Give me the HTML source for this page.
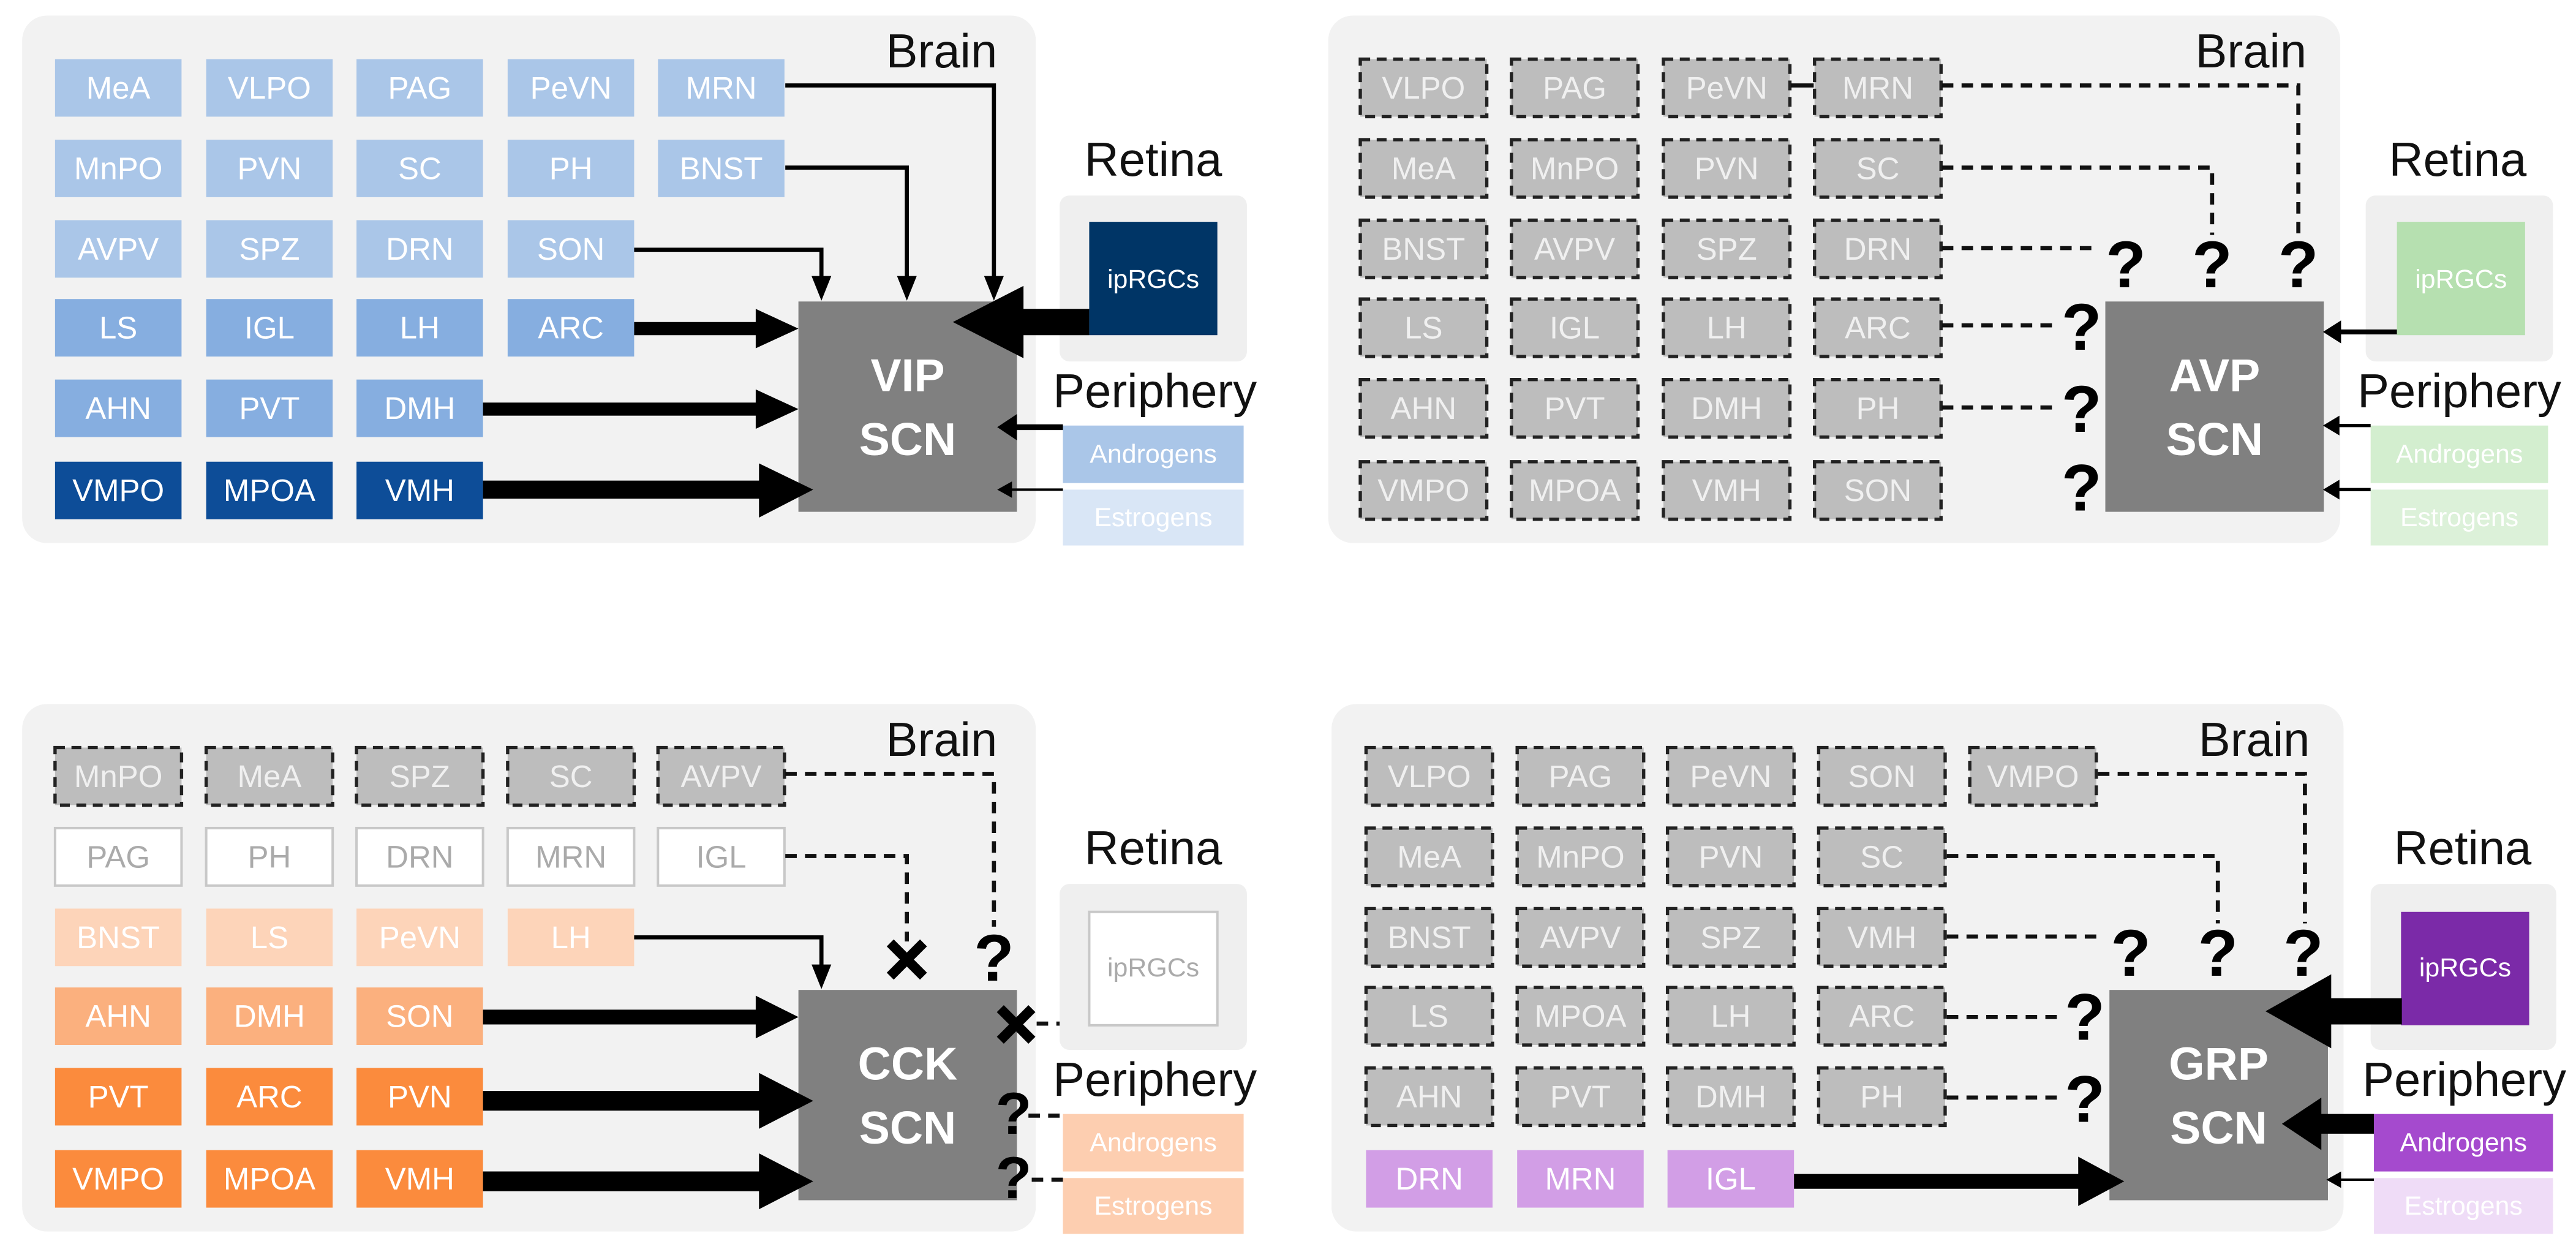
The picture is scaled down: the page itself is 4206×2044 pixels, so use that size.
<!DOCTYPE html>
<html><head><meta charset="utf-8"><style>
html,body{margin:0;padding:0;background:#fff}
svg{display:block}
.t{font-family:"Liberation Sans",sans-serif;font-size:19px;fill:#fff;text-anchor:middle;dominant-baseline:central}
.g{fill:#f0f0f0}
.L{font-family:"Liberation Sans",sans-serif;font-size:29px;fill:#111}
.S{font-family:"Liberation Sans",sans-serif;font-size:28px;font-weight:bold;fill:#fff;text-anchor:middle}
.Q{font-family:"Liberation Sans",sans-serif;font-size:40px;font-weight:bold;fill:#000;text-anchor:middle;dominant-baseline:central}
.d rect{fill:#bdbdbd;stroke:#222;stroke-width:2;stroke-dasharray:6 4}
.dl{fill:none;stroke:#111;stroke-width:2.5;stroke-dasharray:7 5}
.sl{fill:none;stroke:#000}
</style></head><body>
<svg width="4206" height="2044" viewBox="0 0 1568 762" xmlns="http://www.w3.org/2000/svg">
<!-- ================= TOP LEFT (VIP) ================= -->
<g id="tl">
<rect x="13.5" y="9.5" width="617" height="321" rx="15" fill="#f2f2f2"/>
<text class="L" x="607" y="41" text-anchor="end">Brain</text>
<g fill="#aac6e8">
<rect x="33.5" y="36" width="77" height="35"/><rect x="125.5" y="36" width="77" height="35"/><rect x="217" y="36" width="77" height="35"/><rect x="309" y="36" width="77" height="35"/><rect x="400.5" y="36" width="77" height="35"/>
<rect x="33.5" y="85" width="77" height="35"/><rect x="125.5" y="85" width="77" height="35"/><rect x="217" y="85" width="77" height="35"/><rect x="309" y="85" width="77" height="35"/><rect x="400.5" y="85" width="77" height="35"/>
<rect x="33.5" y="134" width="77" height="35"/><rect x="125.5" y="134" width="77" height="35"/><rect x="217" y="134" width="77" height="35"/><rect x="309" y="134" width="77" height="35"/>
</g>
<g fill="#86aee0">
<rect x="33.5" y="182" width="77" height="35"/><rect x="125.5" y="182" width="77" height="35"/><rect x="217" y="182" width="77" height="35"/><rect x="309" y="182" width="77" height="35"/>
<rect x="33.5" y="231" width="77" height="35"/><rect x="125.5" y="231" width="77" height="35"/><rect x="217" y="231" width="77" height="35"/>
</g>
<g fill="#0d4d98">
<rect x="33.5" y="281" width="77" height="35"/><rect x="125.5" y="281" width="77" height="35"/><rect x="217" y="281" width="77" height="35"/>
</g>
<g class="t">
<text class="t" x="72" y="53.5">MeA</text><text class="t" x="164" y="53.5">VLPO</text><text class="t" x="255.5" y="53.5">PAG</text><text class="t" x="347.5" y="53.5">PeVN</text><text class="t" x="439" y="53.5">MRN</text>
<text class="t" x="72" y="102.5">MnPO</text><text class="t" x="164" y="102.5">PVN</text><text class="t" x="255.5" y="102.5">SC</text><text class="t" x="347.5" y="102.5">PH</text><text class="t" x="439" y="102.5">BNST</text>
<text class="t" x="72" y="151.5">AVPV</text><text class="t" x="164" y="151.5">SPZ</text><text class="t" x="255.5" y="151.5">DRN</text><text class="t" x="347.5" y="151.5">SON</text>
<text class="t" x="72" y="199.5">LS</text><text class="t" x="164" y="199.5">IGL</text><text class="t" x="255.5" y="199.5">LH</text><text class="t" x="347.5" y="199.5">ARC</text>
<text class="t" x="72" y="248.5">AHN</text><text class="t" x="164" y="248.5">PVT</text><text class="t" x="255.5" y="248.5">DMH</text>
<text class="t" x="72" y="298.5">VMPO</text><text class="t" x="164" y="298.5">MPOA</text><text class="t" x="255.5" y="298.5">VMH</text>
</g>
<rect x="486" y="183.5" width="133" height="128" fill="#808080"/>
<text class="S" x="552.5" y="238">VIP</text><text class="S" x="552.5" y="277">SCN</text>
<!-- retina -->
<text class="L" x="702" y="107" text-anchor="middle">Retina</text>
<rect x="645" y="119" width="114" height="101" rx="6" fill="#efefef"/>
<rect x="663" y="135" width="78" height="69" fill="#003566"/>
<text class="t" x="702" y="170" style="font-size:16px">ipRGCs</text>
<text class="L" x="703" y="248" text-anchor="middle">Periphery</text>
<rect x="647" y="259" width="110" height="35" fill="#aac6e8"/><text class="t" x="702" y="276.5" style="font-size:16px">Androgens</text>
<rect x="647" y="298" width="110" height="34" fill="#d9e6f6"/><text class="t" x="702" y="315" style="font-size:16px">Estrogens</text>
<!-- arrows -->
<polyline class="sl" stroke-width="2.5" points="478,52 605,52 605,172"/><polygon points="599,168 605,183 611,168"/>
<polyline class="sl" stroke-width="2.5" points="478,102 552,102 552,172"/><polygon points="546,168 552,183 558,168"/>
<polyline class="sl" stroke-width="2.5" points="386,152 500,152 500,172"/><polygon points="494,168 500,183 506,168"/>
<line class="sl" x1="386" y1="200" x2="462" y2="200" stroke-width="8"/><polygon points="460,188 486,200 460,212"/>
<line class="sl" x1="294" y1="249" x2="462" y2="249" stroke-width="8"/><polygon points="460,237 486,249 460,261"/>
<line class="sl" x1="294" y1="298" x2="464" y2="298" stroke-width="11"/><polygon points="462,282 495,298 462,315"/>
<line class="sl" x1="663" y1="196" x2="620" y2="196" stroke-width="16"/><polygon points="623,174 580,196 623,218"/>
<line class="sl" x1="647" y1="260" x2="615" y2="260" stroke-width="3.5"/><polygon points="619,252 607,260 619,268"/>
<line class="sl" x1="647" y1="298" x2="613" y2="298" stroke-width="1.5" stroke="#444"/><polygon points="616,293 607,298 616,303"/>
</g>

<!-- ================= TOP RIGHT (AVP) ================= -->
<g id="tr">
<rect x="808.5" y="9.5" width="616" height="321" rx="15" fill="#f2f2f2"/>
<text class="L" x="1404" y="41" text-anchor="end">Brain</text>
<g class="d">
<rect x="828" y="36" width="77" height="35"/><rect x="920" y="36" width="77" height="35"/><rect x="1012.5" y="36" width="77" height="35"/><rect x="1104.5" y="36" width="77" height="35"/>
<rect x="828" y="85" width="77" height="35"/><rect x="920" y="85" width="77" height="35"/><rect x="1012.5" y="85" width="77" height="35"/><rect x="1104.5" y="85" width="77" height="35"/>
<rect x="828" y="134" width="77" height="35"/><rect x="920" y="134" width="77" height="35"/><rect x="1012.5" y="134" width="77" height="35"/><rect x="1104.5" y="134" width="77" height="35"/>
<rect x="828" y="182" width="77" height="35"/><rect x="920" y="182" width="77" height="35"/><rect x="1012.5" y="182" width="77" height="35"/><rect x="1104.5" y="182" width="77" height="35"/>
<rect x="828" y="231" width="77" height="35"/><rect x="920" y="231" width="77" height="35"/><rect x="1012.5" y="231" width="77" height="35"/><rect x="1104.5" y="231" width="77" height="35"/>
<rect x="828" y="281" width="77" height="35"/><rect x="920" y="281" width="77" height="35"/><rect x="1012.5" y="281" width="77" height="35"/><rect x="1104.5" y="281" width="77" height="35"/>
</g>
<text class="t g" x="866.5" y="53.5">VLPO</text><text class="t g" x="958.5" y="53.5">PAG</text><text class="t g" x="1051" y="53.5">PeVN</text><text class="t g" x="1143" y="53.5">MRN</text>
<text class="t g" x="866.5" y="102.5">MeA</text><text class="t g" x="958.5" y="102.5">MnPO</text><text class="t g" x="1051" y="102.5">PVN</text><text class="t g" x="1143" y="102.5">SC</text>
<text class="t g" x="866.5" y="151.5">BNST</text><text class="t g" x="958.5" y="151.5">AVPV</text><text class="t g" x="1051" y="151.5">SPZ</text><text class="t g" x="1143" y="151.5">DRN</text>
<text class="t g" x="866.5" y="199.5">LS</text><text class="t g" x="958.5" y="199.5">IGL</text><text class="t g" x="1051" y="199.5">LH</text><text class="t g" x="1143" y="199.5">ARC</text>
<text class="t g" x="866.5" y="248.5">AHN</text><text class="t g" x="958.5" y="248.5">PVT</text><text class="t g" x="1051" y="248.5">DMH</text><text class="t g" x="1143" y="248.5">PH</text>
<text class="t g" x="866.5" y="298.5">VMPO</text><text class="t g" x="958.5" y="298.5">MPOA</text><text class="t g" x="1051" y="298.5">VMH</text><text class="t g" x="1143" y="298.5">SON</text>
<rect x="1281.5" y="183.5" width="133" height="128" fill="#808080"/>
<text class="S" x="1348" y="238">AVP</text><text class="S" x="1348" y="277">SCN</text>
<line x1="1090" y1="52" x2="1104" y2="52" stroke="#111" stroke-width="2.5"/>
<polyline class="dl" points="1182,52 1399,52 1399,143"/>
<polyline class="dl" points="1182,102 1346.5,102 1346.5,143"/>
<polyline class="dl" points="1182,151 1278,151"/>
<polyline class="dl" points="1182,198 1251,198"/>
<polyline class="dl" points="1182,248 1251,248"/>
<text class="Q" x="1294" y="161">?</text><text class="Q" x="1346.5" y="161">?</text><text class="Q" x="1399" y="161">?</text>
<text class="Q" x="1267" y="199">?</text><text class="Q" x="1267" y="249">?</text><text class="Q" x="1267" y="297">?</text>
<text class="L" x="1496" y="107" text-anchor="middle">Retina</text>
<rect x="1440" y="119" width="114" height="101" rx="6" fill="#efefef"/>
<rect x="1459" y="135" width="78" height="69" fill="#b6e0b0"/>
<text class="t" x="1498" y="170" style="font-size:16px">ipRGCs</text>
<text class="L" x="1497" y="248" text-anchor="middle">Periphery</text>
<rect x="1443" y="259" width="108" height="35" fill="#d3eecf"/><text class="t" x="1497" y="276.5" style="font-size:16px">Androgens</text>
<rect x="1443" y="298" width="108" height="34" fill="#dcf1d9"/><text class="t" x="1497" y="315" style="font-size:16px">Estrogens</text>
<line class="sl" x1="1459" y1="202" x2="1420" y2="202" stroke-width="3"/><polygon points="1425,195 1414,202 1425,209"/>
<line class="sl" x1="1443" y1="259" x2="1420" y2="259" stroke-width="2" stroke="#555"/><polygon points="1424,253 1414,259 1424,265"/>
<line class="sl" x1="1443" y1="298" x2="1420" y2="298" stroke-width="2" stroke="#555"/><polygon points="1424,292 1414,298 1424,304"/>
</g>

<!-- ================= BOTTOM LEFT (CCK) ================= -->
<g transform="translate(0,419)">
<rect x="13.5" y="9.5" width="617" height="321" rx="15" fill="#f2f2f2"/>
<text class="L" x="607" y="41" text-anchor="end">Brain</text>
<g class="d">
<rect x="33.5" y="36" width="77" height="35"/><rect x="125.5" y="36" width="77" height="35"/><rect x="217" y="36" width="77" height="35"/><rect x="309" y="36" width="77" height="35"/><rect x="400.5" y="36" width="77" height="35"/>
</g>
<g fill="#fff" stroke="#c8c8c8" stroke-width="1.5">
<rect x="33.5" y="85" width="77" height="35"/><rect x="125.5" y="85" width="77" height="35"/><rect x="217" y="85" width="77" height="35"/><rect x="309" y="85" width="77" height="35"/><rect x="400.5" y="85" width="77" height="35"/>
</g>
<g fill="#fdd4b9">
<rect x="33.5" y="134" width="77" height="35"/><rect x="125.5" y="134" width="77" height="35"/><rect x="217" y="134" width="77" height="35"/><rect x="309" y="134" width="77" height="35"/>
</g>
<g fill="#fbb07e">
<rect x="33.5" y="182" width="77" height="35"/><rect x="125.5" y="182" width="77" height="35"/><rect x="217" y="182" width="77" height="35"/>
</g>
<g fill="#fb8b3d">
<rect x="33.5" y="231" width="77" height="35"/><rect x="125.5" y="231" width="77" height="35"/><rect x="217" y="231" width="77" height="35"/>
<rect x="33.5" y="281" width="77" height="35"/><rect x="125.5" y="281" width="77" height="35"/><rect x="217" y="281" width="77" height="35"/>
</g>
<text class="t g" x="72" y="53.5">MnPO</text><text class="t g" x="164" y="53.5">MeA</text><text class="t g" x="255.5" y="53.5">SPZ</text><text class="t g" x="347.5" y="53.5">SC</text><text class="t g" x="439" y="53.5">AVPV</text>
<g><text class="t" style="fill:#aaa" x="72" y="102.5">PAG</text><text class="t" style="fill:#aaa" x="164" y="102.5">PH</text><text class="t" style="fill:#aaa" x="255.5" y="102.5">DRN</text><text class="t" style="fill:#aaa" x="347.5" y="102.5">MRN</text><text class="t" style="fill:#aaa" x="439" y="102.5">IGL</text></g>
<text class="t" x="72" y="151.5">BNST</text><text class="t" x="164" y="151.5">LS</text><text class="t" x="255.5" y="151.5">PeVN</text><text class="t" x="347.5" y="151.5">LH</text>
<text class="t" x="72" y="199.5">AHN</text><text class="t" x="164" y="199.5">DMH</text><text class="t" x="255.5" y="199.5">SON</text>
<text class="t" x="72" y="248.5">PVT</text><text class="t" x="164" y="248.5">ARC</text><text class="t" x="255.5" y="248.5">PVN</text>
<text class="t" x="72" y="298.5">VMPO</text><text class="t" x="164" y="298.5">MPOA</text><text class="t" x="255.5" y="298.5">VMH</text>
<rect x="486" y="183.5" width="133" height="128" fill="#808080"/>
<text class="S" x="552.5" y="238">CCK</text><text class="S" x="552.5" y="277">SCN</text>
<polyline class="dl" points="478,52 605,52 605,145"/>
<polyline class="dl" points="478,102 552,102 552,154"/>
<text class="Q" x="605" y="164">?</text>
<g stroke="#000" stroke-width="6" stroke-linecap="square"><line x1="544" y1="157" x2="560" y2="173"/><line x1="560" y1="157" x2="544" y2="173"/>
<line x1="611" y1="197" x2="626" y2="212"/><line x1="626" y1="197" x2="611" y2="212"/></g>
<line x1="631" y1="204" x2="663" y2="204" stroke="#111" stroke-width="2.5" stroke-dasharray="7 5"/>
<polyline class="sl" stroke-width="2.5" points="386,151.5 500,151.5 500,172"/><polygon points="494,168 500,183 506,168"/>
<line class="sl" x1="294" y1="200" x2="462" y2="200" stroke-width="9"/><polygon points="460,187 486,200 460,213"/>
<line class="sl" x1="294" y1="251" x2="464" y2="251" stroke-width="12"/><polygon points="462,234 495,251 462,268"/>
<line class="sl" x1="294" y1="300" x2="464" y2="300" stroke-width="12"/><polygon points="462,283 495,300 462,317"/>
<text class="Q" x="617" y="259" style="font-size:36px">?</text><text class="Q" x="617" y="298" style="font-size:36px">?</text>
<line x1="626" y1="260" x2="647" y2="260" stroke="#111" stroke-width="2.5" stroke-dasharray="7 5"/>
<line x1="628" y1="299" x2="647" y2="299" stroke="#111" stroke-width="2.5" stroke-dasharray="7 5"/>
<text class="L" x="702" y="107" text-anchor="middle">Retina</text>
<rect x="645" y="119" width="114" height="101" rx="6" fill="#efefef"/>
<rect x="663" y="136" width="78" height="69" fill="#fff" stroke="#c8c8c8" stroke-width="1.5"/>
<text class="t" x="702" y="170" style="font-size:16px;fill:#aaa">ipRGCs</text>
<text class="L" x="703" y="248" text-anchor="middle">Periphery</text>
<rect x="647" y="259" width="110" height="35" fill="#fdceb0"/><text class="t" x="702" y="276.5" style="font-size:16px">Androgens</text>
<rect x="647" y="298" width="110" height="34" fill="#fdceb0"/><text class="t" x="702" y="315" style="font-size:16px">Estrogens</text>
</g>

<!-- ================= BOTTOM RIGHT (GRP) ================= -->
<g transform="translate(0,419)">
<rect x="810.5" y="9.5" width="616" height="321" rx="15" fill="#f2f2f2"/>
<text class="L" x="1406" y="41" text-anchor="end">Brain</text>
<g class="d">
<rect x="831.5" y="36" width="77" height="35"/><rect x="923.5" y="36" width="77" height="35"/><rect x="1015" y="36" width="77" height="35"/><rect x="1107" y="36" width="77" height="35"/><rect x="1199" y="36" width="77" height="35"/>
<rect x="831.5" y="85" width="77" height="35"/><rect x="923.5" y="85" width="77" height="35"/><rect x="1015" y="85" width="77" height="35"/><rect x="1107" y="85" width="77" height="35"/>
<rect x="831.5" y="134" width="77" height="35"/><rect x="923.5" y="134" width="77" height="35"/><rect x="1015" y="134" width="77" height="35"/><rect x="1107" y="134" width="77" height="35"/>
<rect x="831.5" y="182" width="77" height="35"/><rect x="923.5" y="182" width="77" height="35"/><rect x="1015" y="182" width="77" height="35"/><rect x="1107" y="182" width="77" height="35"/>
<rect x="831.5" y="231" width="77" height="35"/><rect x="923.5" y="231" width="77" height="35"/><rect x="1015" y="231" width="77" height="35"/><rect x="1107" y="231" width="77" height="35"/>
</g>
<g fill="#d29ee6">
<rect x="831.5" y="281" width="77" height="35"/><rect x="923.5" y="281" width="77" height="35"/><rect x="1015" y="281" width="77" height="35"/>
</g>
<text class="t g" x="870" y="53.5">VLPO</text><text class="t g" x="962" y="53.5">PAG</text><text class="t g" x="1053.5" y="53.5">PeVN</text><text class="t g" x="1145.5" y="53.5">SON</text><text class="t g" x="1237.5" y="53.5">VMPO</text>
<text class="t g" x="870" y="102.5">MeA</text><text class="t g" x="962" y="102.5">MnPO</text><text class="t g" x="1053.5" y="102.5">PVN</text><text class="t g" x="1145.5" y="102.5">SC</text>
<text class="t g" x="870" y="151.5">BNST</text><text class="t g" x="962" y="151.5">AVPV</text><text class="t g" x="1053.5" y="151.5">SPZ</text><text class="t g" x="1145.5" y="151.5">VMH</text>
<text class="t g" x="870" y="199.5">LS</text><text class="t g" x="962" y="199.5">MPOA</text><text class="t g" x="1053.5" y="199.5">LH</text><text class="t g" x="1145.5" y="199.5">ARC</text>
<text class="t g" x="870" y="248.5">AHN</text><text class="t g" x="962" y="248.5">PVT</text><text class="t g" x="1053.5" y="248.5">DMH</text><text class="t g" x="1145.5" y="248.5">PH</text>
<text class="t" x="870" y="298.5">DRN</text><text class="t" x="962" y="298.5">MRN</text><text class="t" x="1053.5" y="298.5">IGL</text>
<rect x="1284" y="183.5" width="133" height="128" fill="#808080"/>
<text class="S" x="1350.5" y="238">GRP</text><text class="S" x="1350.5" y="277">SCN</text>
<polyline class="dl" points="1277,52 1403,52 1403,143"/>
<polyline class="dl" points="1185,102 1350,102 1350,143"/>
<polyline class="dl" points="1185,151 1281,151"/>
<polyline class="dl" points="1185,200 1253,200"/>
<polyline class="dl" points="1185,249 1253,249"/>
<text class="Q" x="1297" y="161">?</text><text class="Q" x="1350" y="161">?</text><text class="Q" x="1402" y="161">?</text>
<text class="Q" x="1269" y="200">?</text><text class="Q" x="1269" y="250">?</text>
<line class="sl" x1="1092" y1="300" x2="1267" y2="300" stroke-width="9"/><polygon points="1265,285 1293,300 1265,315"/>
<text class="L" x="1499" y="107" text-anchor="middle">Retina</text>
<rect x="1443" y="119" width="113" height="101" rx="6" fill="#efefef"/>
<rect x="1461.5" y="136" width="78" height="69" fill="#7b2aa8"/>
<text class="t" x="1500.5" y="170" style="font-size:16px">ipRGCs</text>
<text class="L" x="1500" y="248" text-anchor="middle">Periphery</text>
<rect x="1445" y="259" width="109" height="35" fill="#a54ace"/><text class="t" x="1499.5" y="276.5" style="font-size:16px">Androgens</text>
<rect x="1445" y="298" width="109" height="34" fill="#efdcf7"/><text class="t" x="1499.5" y="315" style="font-size:16px">Estrogens</text>
<line class="sl" x1="1462" y1="196.5" x2="1415" y2="196.5" stroke-width="16"/><polygon points="1419,174 1379,196.5 1419,219"/>
<line class="sl" x1="1445" y1="265" x2="1410" y2="265" stroke-width="12"/><polygon points="1413,249 1389,265 1413,281"/>
<line class="sl" x1="1445" y1="299" x2="1422" y2="299" stroke-width="1.5" stroke="#555"/><polygon points="1425,294 1416,299 1425,304"/>
</g>
</svg>
</body></html>
